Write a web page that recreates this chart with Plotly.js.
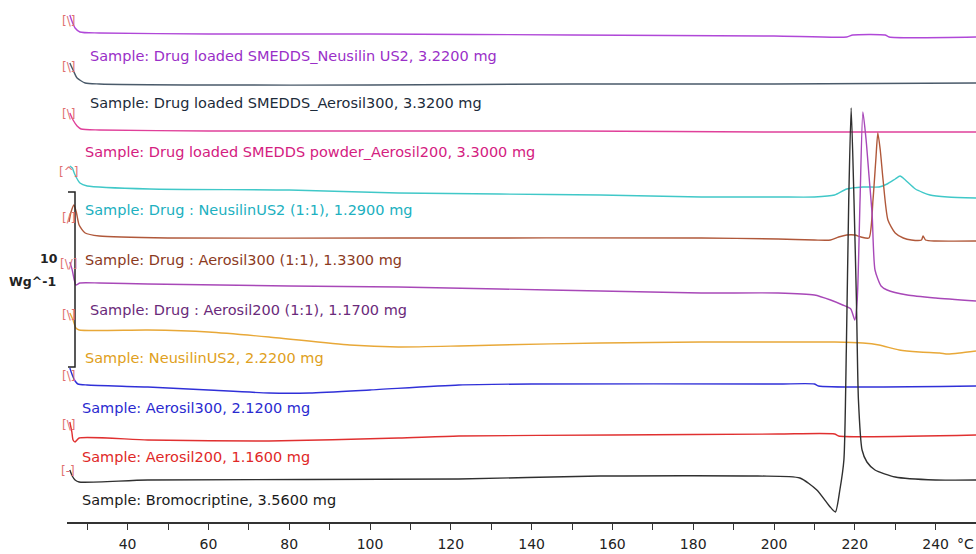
<!DOCTYPE html>
<html>
<head>
<meta charset="utf-8">
<script src="https://cdn.plot.ly/plotly-3.0.1.min.js"></script>
<style>html,body{margin:0;padding:0;background:#fff;}#chart{width:976px;height:554px;}</style>
</head>
<body>
<div id="chart"></div>
<script>
// Sample names (top to bottom)
var sampleLabels = [
  "Sample: Drug loaded SMEDDS_Neusilin US2, 3.2200 mg",
  "Sample: Drug loaded SMEDDS_Aerosil300, 3.3200 mg",
  "Sample: Drug loaded SMEDDS powder_Aerosil200, 3.3000 mg",
  "Sample: Drug : NeusilinUS2 (1:1), 1.2900 mg",
  "Sample: Drug : Aerosil300 (1:1), 1.3300 mg",
  "Sample: Drug : Aerosil200 (1:1), 1.1700 mg",
  "Sample: NeusilinUS2, 2.2200 mg",
  "Sample: Aerosil300, 2.1200 mg",
  "Sample: Aerosil200, 1.1600 mg",
  "Sample: Bromocriptine, 3.5600 mg"
];

// Temperatures (°C) and offset heat-flow readings (display units) for each curve
var t1 = [25.7,26.3,27,28.2,33,60,100,150,200,218,219.5,227.5,228.5,250];
var v1 = [507,500,494,490,489,488,488,487,486,485,487,487,485,485];

var t2 = [25.7,26.5,27.5,29.5,33,60,100,150,200,250];
var v2 = [459,452,444,439,438,437,437,438,438,439];

var t3 = [25.7,26.5,27.5,28.5,33,60,100,150,200,250];
var v3 = [409,402,396,393,392,391,391,391,390,390];

var t4 = [25.7,26.3,27,28.2,30,45.5,80,107,132,157,182,201,210,215,218,222,226,228,230,231.2,232.5,235,238.6,243,250];
var v4 = [356,354,347,339,336,333,332,329,328,327,325,325,325,327,333,335,335,338,343,346,342,333,327,325,324];

var t5 = [25.5,26,26.7,27.3,28,29.5,33,50,107,182,201,210,214,216,218,220,221.5,223.5,224.5,225.2,225.7,226.3,227,228.2,230,232,234,236.5,236.9,237.5,240,250];
var v5 = [300,310,317,310,297,289,286,284,284,284,283,282,282,285,287,287,285,284,322,362,389,372,342,302,289,284,282,282,286,282,281,281];

var t6 = [25.7,26.3,26.8,27.2,28.2,33,45,80,107,132,157,182,201,210,214,217,219,220,220.6,221.3,222,222.8,223.5,224.3,225,226.5,228,233,240,250];
var v6 = [260,252,242,237,239,239,238,236,235,233,231,229,229,227,222,217,213,202,222,322,410,382,347,307,252,236,232,227,224,221];

var t7 = [25.7,26.5,27.2,28,45,60,75,95,107,122,132,157,182,201,215,222,226,231,236,241,243,246,250];
var v7 = [209,202,194,192,192,190,185,177,175,176,177,179,180,180,180,179,177,172,170,169,168,169,171];

var t8 = [25.7,26.3,27,27.7,30,45,60,75,85,100,122,140,201,210,211,250];
var v8 = [154,147,141,138,137,135,132,129,129,132,137,138,138,138,136,136];

var t9 = [25.7,26.2,26.5,27,28,45,75,107,122,160,201,215,216,250];
var v9 = [100,90,82,80,84,82,81,84,86,87,88,88,86,87];

var t10 = [25.7,26.3,27,28,45,122,157,196,206.4,210.6,213.9,215.2,216.3,217.3,217.9,218.5,219.1,219.8,220.4,220.9,221.8,223,225,230,240,250];
var v10 = [52,46,42,40,42,43,46,46,44,32,15,10,32,62,172,322,414,322,222,122,72,60,52,45,42,42];

var lineColors  = ["#b048d8","#4a5a6a","#e0409a","#40c8c8","#b0583a","#a848b8","#e8a838","#3030d8","#e03030","#303030"];
var labelColors = ["#9a2fc8","#1c2b3a","#d4207f","#20b0c0","#8b3a1e","#6a2a7a","#e0a020","#2a2ad0","#e02828","#1a1a1a"];

// x-axis ticks
var tickVals = [30,40,50,60,70,80,90,100,110,120,130,140,150,160,170,180,190,200,210,220,230,240,250];
var tickText = ["","40","","60","","80","","100","","120","","140","","160","","180","","200","","220","","240",""];

var temps = [t1,t2,t3,t4,t5,t6,t7,t8,t9,t10];
var vals  = [v1,v2,v3,v4,v5,v6,v7,v8,v9,v10];

// label placement (pixel) and start-marker glyphs
var labelX = [88,88,83,83,83,88,83,80,80,80];
var labelY = [56,103,152,210,260,310,358,408,457,500];
var markerY = [21,67,114,172,218,264,315,376,425,471];
var markerTxt = ["[\\]","[\\]","[\\]","[^]","[/]","[\\/]","[\\]","[\\]","[\\]","[-]"];

var W = 976, H = 554, L = 67, B = 32, PW = W - L, PH = H - B;
function px(x){ return (x - L) / PW; }
function py(y){ return (PH - y) / PH; }

var traces = [];
for (var i = 0; i < temps.length; i++) {
  traces.push({
    x: temps[i], y: vals[i], type: "scatter", mode: "lines",
    line: {color: lineColors[i], width: 1.4, shape: "spline", smoothing: 0.6},
    name: sampleLabels[i], hoverinfo: "skip"
  });
}

var ann = [];
for (var j = 0; j < sampleLabels.length; j++) {
  ann.push({xref:"paper", yref:"paper", x: px(labelX[j]), y: py(labelY[j]),
    xanchor:"left", yanchor:"middle", showarrow:false, text: sampleLabels[j],
    font:{family:"DejaVu Sans", size:14.5, color: labelColors[j]}});
  ann.push({xref:"paper", yref:"paper", x: px(68), y: py(markerY[j]),
    xanchor:"center", yanchor:"middle", showarrow:false, text: markerTxt[j],
    font:{family:"DejaVu Sans", size:12, color:"#e07070"}});
}
ann.push({xref:"paper", yref:"paper", x: px(60), y: py(258), xanchor:"right", yanchor:"middle",
  showarrow:false, text:"<b>10</b>", font:{family:"DejaVu Sans", size:12.5, color:"#222"}});
ann.push({xref:"paper", yref:"paper", x: px(58), y: py(281), xanchor:"right", yanchor:"middle",
  showarrow:false, text:"<b>Wg^-1</b>", font:{family:"DejaVu Sans", size:12.5, color:"#222"}});
ann.push({xref:"paper", yref:"paper", x: 1, y: py(544), xanchor:"right", yanchor:"middle",
  showarrow:false, text:"°C", font:{family:"DejaVu Sans", size:14, color:"#222"}});

var layout = {
  width: W, height: H,
  margin: {l: L, r: 0, t: 0, b: B},
  paper_bgcolor: "#fff", plot_bgcolor: "#fff",
  showlegend: false, hovermode: false,
  xaxis: {range: [25, 250], showgrid: false, zeroline: false, showline: true,
    linecolor: "#333", linewidth: 1.5, ticks: "outside", ticklen: 6, tickcolor: "#333",
    tickvals: tickVals, ticktext: tickText, ticklabelstandoff: 3,
    tickfont: {family: "DejaVu Sans", size: 14, color: "#222"}},
  yaxis: {range: [0, PH], visible: false, fixedrange: true},
  shapes: [{type: "path", xref: "paper", yref: "paper",
    path: "M " + px(68) + " " + py(192) + " L " + px(75) + " " + py(192) + " L " + px(75) + " " + py(367) + " L " + px(68) + " " + py(367),
    line: {color: "#222", width: 1.5}}],
  annotations: ann
};

Plotly.newPlot("chart", traces, layout, {displayModeBar: false, staticPlot: true});
</script>
</body>
</html>
